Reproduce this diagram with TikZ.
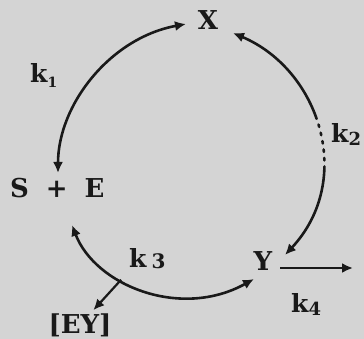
\documentclass[tikz,border=0pt]{standalone}
\usepackage{fontspec}
\setmainfont{DejaVu Serif}
\usetikzlibrary{arrows.meta}
\definecolor{bg}{RGB}{212,212,212}
\definecolor{ink}{RGB}{25,25,25}
\tikzset{
  lbl/.style={font=\fontsize{26}{26}\selectfont\bfseries, inner sep=0pt, text=ink, anchor=base},
  klbl/.style={font=\fontsize{25}{25}\selectfont\bfseries, inner sep=0pt, text=ink, anchor=base west},
  tip/.style={-{Latex[length=11pt,width=10pt]}},
  arr/.style={draw=ink, line width=2.5pt, tip},
  dblarr/.style={draw=ink, line width=2.6pt, {Latex[length=11pt,width=10pt]}-{Latex[length=11pt,width=10pt]}},
}
\begin{document}
\begin{tikzpicture}[x=1pt,y=-1pt]
\useasboundingbox (0,0) rectangle (364,339);
\fill[bg] (0,0) rectangle (364,339);
\clip (0,0) rectangle (364,339);

\node[lbl] (X) at (208,30) {X};
\node[lbl, anchor=base west] (SE) at (10,198) {S\hspace{17pt}+\hspace{17pt}E};
\node[lbl] (Y) at (263,270) {Y};
\node[lbl, outer sep=3pt] (EY) at (80,333) {[EY]};
\coordinate (out) at (353,268);

\node[klbl] (k1) at (30,83) {k\raisebox{-5pt}{\fontsize{14}{14}\selectfont 1}};
\node[klbl] (k2) at (331,143) {k\raisebox{-3pt}{\fontsize{18}{18}\selectfont 2}};
\node[klbl] (k3) at (129,267) {k\hspace{5pt}\raisebox{-1pt}{\fontsize{20}{20}\selectfont 3}};
\node[klbl] (k4) at (291,312) {k\raisebox{-3pt}{\fontsize{18}{18}\selectfont 4}};

% k1 arc
\draw[dblarr] ([shift={(48,-25)}]SE.base west) .. controls (58,105) and (110,38) .. ([shift={(-22,-6)}]X.base);
% k2 arc (partly dotted)
\draw[dblarr, line cap=round, dash pattern=on 114pt off 6pt on 2.5pt off 6pt on 2.5pt off 6pt on 2.5pt off 6pt on 2.5pt off 6pt on 2.5pt off 6pt on 300pt]
  ([shift={(25,3)}]X.base) .. controls (320,70) and (355,180) .. ([shift={(22,-15)}]Y.base);
% k3 arc
\draw[dblarr] ([shift={(62,27)}]SE.base west) .. controls (95,285) and (180,320) .. ([shift={(-9,9)}]Y.base) coordinate[pos=0.38] (br);
% branch to [EY]
\draw[arr, line width=2.2pt] (br) -- (EY);
% k4 outflow
\draw[arr, line width=2.2pt] ([shift={(17,-2)}]Y.base) -- (out);
\end{tikzpicture}
\end{document}
